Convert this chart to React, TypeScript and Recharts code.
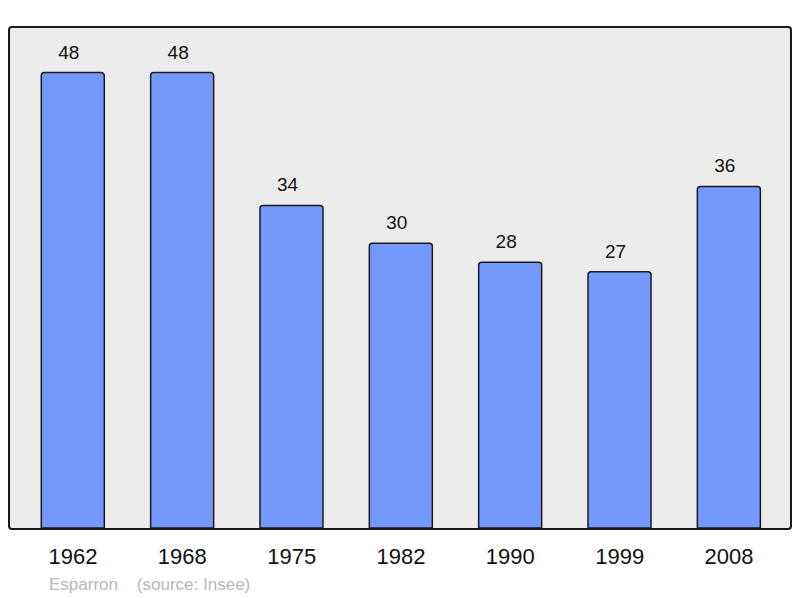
import { Bar, BarChart, XAxis, YAxis, LabelList } from "recharts"

const years = ["1962", "1968", "1975", "1982", "1990", "1999", "2008"]
const population = [48, 48, 34, 30, 28, 27, 36]

const data = years.map((year, i) => ({ year, population: population[i] }))

const font = "'Liberation Sans', Arial, sans-serif"

export default function App() {
  return (
    <div style={{ position: "absolute", left: 0, top: 0, width: 800, height: 598, background: "#fff", fontFamily: font }}>
      <div
        style={{
          position: "absolute",
          left: 8,
          top: 26,
          width: 780,
          height: 500,
          background: "#ececec",
          border: "2px solid #1a1a1a",
          borderRadius: 4,
        }}
      />
      <div style={{ position: "absolute", left: 0, top: 0 }}>
        <BarChart width={800} height={598} data={data} margin={{ top: 27, left: 10, right: 8, bottom: 0 }}>
          <XAxis
            dataKey="year"
            axisLine={false}
            tickLine={false}
            tickSize={0}
            tickMargin={20}
            height={70}
            padding={{ left: 8.3, right: 8.3 }}
            tick={{ fill: "#111", fontSize: 22, fontFamily: font }}
            interval={0}
          />
          <YAxis hide domain={[0, 52.8]} />
          <Bar
            dataKey="population"
            barSize={63}
            fill="#7399ff"
            stroke="#1a1a1a"
            strokeWidth={1.5}
            radius={[3, 3, 0, 0]}
            isAnimationActive={false}
          >
            <LabelList dataKey="population" position="top" offset={14} dx={-4} fill="#111" fontSize={19} fontFamily={font} />
          </Bar>
        </BarChart>
      </div>
      <div style={{ position: "absolute", left: 49, top: 575, fontSize: 17, color: "#b8b8b8", whiteSpace: "pre" }}>
        {"Esparron    (source: Insee)"}
      </div>
    </div>
  )
}
